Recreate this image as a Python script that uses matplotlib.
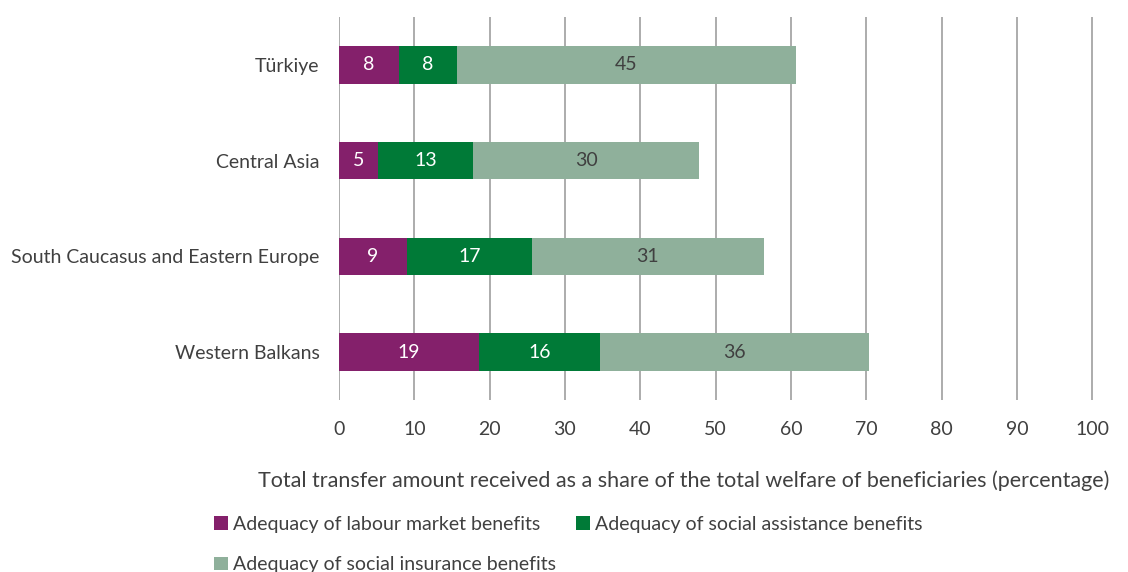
import matplotlib
matplotlib.use("Agg")
import matplotlib.pyplot as plt
from matplotlib.patches import Patch
import numpy as np

plt.rcParams['font.family'] = ['Lato', 'DejaVu Sans']

categories = ["Türkiye", "Central Asia", "South Caucasus and Eastern Europe", "Western Balkans"]
labour_market = [8.0, 5.2, 9.0, 18.6]
social_assistance = [7.6, 12.6, 16.6, 16.0]
social_insurance = [45.1, 30.0, 30.8, 35.7]
series_names = ["Adequacy of labour market benefits",
                "Adequacy of social assistance benefits",
                "Adequacy of social insurance benefits"]
colors = ["#84206B", "#007A37", "#8FB09B"]
label_colors = ["white", "white", "#404040"]
xticks = [0, 10, 20, 30, 40, 50, 60, 70, 80, 90, 100]

fig = plt.figure(figsize=(11.28, 5.72), dpi=100)
ax = fig.add_axes([339/1128, 1-400/572, (1093-339)/1128, 383/572])

y = np.arange(len(categories))
left = np.zeros(len(categories))
for vals, col, lc in zip([labour_market, social_assistance, social_insurance], colors, label_colors):
    vals = np.array(vals)
    bars = ax.barh(y, vals, left=left, height=0.39, color=col, edgecolor='none', zorder=3)
    ax.bar_label(bars, labels=[f"{v:.0f}" for v in vals], label_type='center',
                 color=lc, fontsize=14)
    left = left + vals

ax.set_ylim(len(categories)-0.5, -0.5)
ax.set_xlim(0, 100.1)
ax.set_yticks(y)
ax.set_yticklabels(categories, fontsize=14, color="#404040")
ax.set_xticks(xticks)
ax.set_xticklabels([str(t) for t in xticks], fontsize=14, color="#404040")
ax.tick_params(axis='y', length=0, pad=14)
ax.tick_params(axis='x', length=0, pad=15)
ax.grid(axis='x', color="#A6A6A6", linewidth=1.3, zorder=0)
for s in ax.spines.values():
    s.set_visible(False)

fig.text(684/1128, 1-481/572, "Total transfer amount received as a share of the total welfare of beneficiaries (percentage)",
         ha='center', va='center', fontsize=15.5, color="#404040")

fig.text(0.6, 1.0 + 3/572, "Average benefit level (adequacy) by subregion and type of programme",
         ha='center', va='baseline', fontsize=14, fontweight='bold', color="#007A37")

handles = [Patch(facecolor=c, edgecolor='none') for c in colors]
order = [0, 2, 1]
fig.legend([handles[i] for i in order], [series_names[i] for i in order], ncol=2, loc='upper left',
           bbox_to_anchor=(214/1128, 1-516/572), frameon=False, fontsize=14,
           handlelength=0.7, handleheight=0.7, handletextpad=0.3,
           columnspacing=1.0, labelspacing=1.2, labelcolor="#404040",
           borderaxespad=0, borderpad=0)

fig.savefig("out.png", dpi=100)
